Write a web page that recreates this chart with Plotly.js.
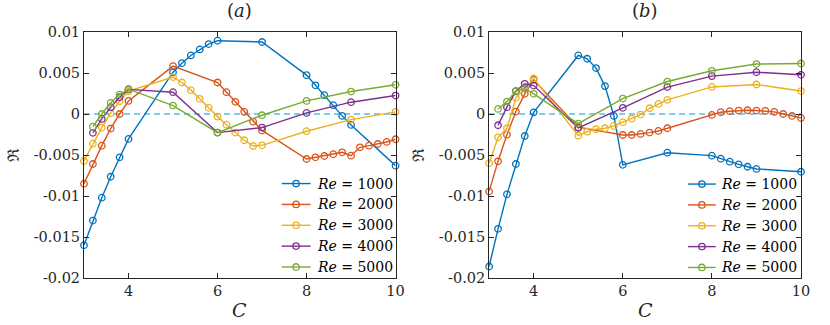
<!DOCTYPE html>
<html>
<head>
<meta charset="utf-8">
<script src="https://cdn.plot.ly/plotly-3.0.1.min.js"></script>
<style>html,body{margin:0;padding:0;background:#fff;}#chart{width:830px;height:325px;}</style>
</head>
<body>
<div id="chart"></div>
<script>
// ---------- data ----------
const seriesNames = ["<i>Re</i> = 1000", "<i>Re</i> = 2000", "<i>Re</i> = 3000", "<i>Re</i> = 4000", "<i>Re</i> = 5000"];
const colors = ["#0072BD", "#D95319", "#EDB120", "#7E2F8E", "#77AC30"];

// panel (a)
const a1x = [3,3.2,3.4,3.6,3.8,4,5,5.2,5.4,5.6,5.8,6,7,8,8.2,8.4,8.6,8.8,9,10];
const a1y = [-0.016,-0.013,-0.0102,-0.00765,-0.00528,-0.00304,0.0051,0.0062,0.00714,0.00787,0.00853,0.00894,0.00878,0.00474,0.0035,0.0023,0.00108,-0.00023,-0.00133,-0.0063];
const a2x = [3,3.2,3.4,3.6,3.8,4,5,6,6.2,6.4,6.6,6.8,7,8,8.2,8.4,8.6,8.8,9,9.2,9.4,9.6,9.8,10];
const a2y = [-0.0085,-0.0061,-0.00386,-0.00178,0,0.0016,0.00584,0.00384,0.00266,0.00148,0.00026,-0.00093,-0.002,-0.00549,-0.00528,-0.00512,-0.0049,-0.00467,-0.00508,-0.00406,-0.00386,-0.00366,-0.00341,-0.00308];
const a3x = [3,3.2,3.4,3.6,3.8,4,5,5.2,5.4,5.6,5.8,6,6.2,6.4,6.6,6.8,7,8,9,10];
const a3y = [-0.00573,-0.00362,-0.00166,0.0001,0.00156,0.00279,0.0045,0.00384,0.00291,0.00185,0.00075,-0.00032,-0.0013,-0.00227,-0.0032,-0.0039,-0.00382,-0.0021,-0.00068,0.00026];
const a4x = [3.2,3.4,3.6,3.8,4,5,6,7,8,9,10];
const a4y = [-0.0023,-0.0006,0.00083,0.00205,0.00300,0.00266,-0.00227,-0.00166,0.00013,0.00144,0.00225];
const a5x = [3.2,3.4,3.6,3.8,4,5,6,7,8,9,10];
const a5y = [-0.00154,0,0.00136,0.00237,0.00303,0.00103,-0.00227,-0.00015,0.0016,0.00274,0.00356];

// panel (b)
const b1x = [3,3.2,3.4,3.6,3.8,4,5,5.2,5.4,5.6,5.8,6,7,8,8.2,8.4,8.6,8.8,9,10];
const b1y = [-0.0186,-0.014,-0.0098,-0.0061,-0.00268,0.0002,0.00714,0.00674,0.0056,0.0034,-0.00023,-0.0062,-0.00472,-0.00508,-0.00545,-0.00582,-0.00614,-0.00643,-0.0067,-0.00704];
const b2x = [3,3.2,3.4,3.6,3.8,4,5,6,6.2,6.4,6.6,6.8,7,8,8.2,8.4,8.6,8.8,9,9.2,9.4,9.6,9.8,10];
const b2y = [-0.00944,-0.00577,-0.00252,0.0003,0.00246,0.00417,-0.00161,-0.00256,-0.00256,-0.00243,-0.00227,-0.00207,-0.00174,-0.00011,0.00022,0.00034,0.00042,0.00046,0.00042,0.00038,0.00026,0,-0.00023,-0.00048];
const b3x = [3,3.2,3.4,3.6,3.8,4,5,5.2,5.4,5.6,5.8,6,6.2,6.4,6.6,6.8,7,8,9,10];
const b3y = [-0.006,-0.00284,-0.00174,0.00197,0.0031,0.00433,-0.00264,-0.00215,-0.00186,-0.00174,-0.00145,-0.001,-0.00056,-0.00007,0.0007,0.00123,0.00172,0.0033,0.0036,0.0028];
const b4x = [3.2,3.4,3.6,3.8,4,5,6,7,8,9,10];
const b4y = [-0.00137,0.00083,0.0028,0.00368,0.00347,-0.0017,0.00075,0.00328,0.00462,0.0051,0.00478];
const b5x = [3.2,3.4,3.6,3.8,4,5,6,7,8,9,10];
const b5y = [0.00062,0.00152,0.0028,0.0031,0.00246,-0.00117,0.00188,0.00396,0.00527,0.00609,0.00616];

// zero reference line
const refX = [3, 10];
const refY = [0, 0];

// ticks
const xTickVals = [4, 6, 8, 10];
const yTickVals = [-0.02, -0.015, -0.01, -0.005, 0, 0.005, 0.01];
const yTickText = ["-0.02", "-0.015", "-0.01", "-0.005", "0", "0.005", "0.01"];

// ---------- build ----------
const FONT = "DejaVu Serif";
const TXT = "#262626";
const panelA = [[a1x,a1y],[a2x,a2y],[a3x,a3y],[a4x,a4y],[a5x,a5y]];
const panelB = [[b1x,b1y],[b2x,b2y],[b3x,b3y],[b4x,b4y],[b5x,b5y]];

const L = 84, R = 28.7, T = 32.3, B = 47.3;
const W = 830 - L - R, H = 325 - T - B;
const px = v => (v - L) / W;          // pixel x -> paper
const py = v => (325 - B - v) / H;    // pixel y -> paper

const traces = [];
traces.push({x: refX, y: refY, xaxis:'x', yaxis:'y', mode:'lines', showlegend:false, hoverinfo:'skip',
  line:{color:'#4DBEEE', width:1.5, dash:'6px,4px'}});
traces.push({x: refX, y: refY, xaxis:'x2', yaxis:'y2', mode:'lines', showlegend:false, hoverinfo:'skip',
  line:{color:'#4DBEEE', width:1.5, dash:'6px,4px'}});

function addPanel(data, xa, ya) {
  data.forEach((d, i) => {
    traces.push({
      x: d[0], y: d[1], xaxis: xa, yaxis: ya, showlegend: false,
      name: seriesNames[i], mode: 'lines+markers', cliponaxis: false,
      line: {color: colors[i], width: 1.4},
      marker: {symbol: 'circle-open', size: 6.5, color: colors[i], line: {width: 1.3, color: colors[i]}}
    });
  });
}
addPanel(panelA, 'x', 'y');
addPanel(panelB, 'x2', 'y2');

const axX = {
  range: [3, 10], tickvals: xTickVals, ticks: 'inside', ticklen: 5, tickwidth: 1,
  tickcolor: TXT, showline: true, linecolor: TXT, linewidth: 1, mirror: 'ticks',
  showgrid: false, zeroline: false, automargin: false,
  tickfont: {family: FONT, size: 14.5, color: TXT}
};
const axY = {
  range: [-0.02, 0.01], tickvals: yTickVals, ticktext: yTickText, ticks: 'inside', ticklen: 5, tickwidth: 1,
  tickcolor: TXT, showline: true, linecolor: TXT, linewidth: 1, mirror: 'ticks',
  showgrid: false, zeroline: false, automargin: false,
  tickfont: {family: FONT, size: 14.5, color: TXT}
};

const annText = (text, x, y, size, extra) => Object.assign({
  text: text, xref: 'paper', yref: 'paper', x: x, y: y, xanchor: 'center', yanchor: 'middle',
  showarrow: false, font: {family: FONT, size: size, color: TXT}
}, extra || {});

const cA = (84 + 395.7) / 2, cB = (489.3 + 801.3) / 2;

const annotations = [
  annText('(<i>a</i>)', px(cA), py(11), 18),
  annText('(<i>b</i>)', px(cB), py(11), 18),
  annText('<i>C</i>', px(cA), py(310), 19),
  annText('<i>C</i>', px(cB), py(310), 19),
  annText('ℜ', px(13), py(155), 16, {textangle: -90}),
  annText('ℜ', px(418), py(155), 16, {textangle: -90})
];
const shapes = [];

// hand-placed legends (layout furniture), entries taken from seriesNames/colors
const legends = [
  {lineX0: 281.7, lineX1: 310.7, textX: 315, top: 183.5},
  {lineX0: 688.3, lineX1: 716.0, textX: 719.3, top: 184.0}
];
const rowGap = 20.8;
legends.forEach(lg => {
  seriesNames.forEach((nm, i) => {
    const yy = lg.top + i * rowGap;
    shapes.push({type: 'line', xref: 'paper', yref: 'paper', x0: px(lg.lineX0), x1: px(lg.lineX1), y0: py(yy), y1: py(yy),
      line: {color: colors[i], width: 1.4}});
    const mx = (lg.lineX0 + lg.lineX1) / 2;
    shapes.push({type: 'circle', xref: 'paper', yref: 'paper', xsizemode: 'pixel', ysizemode: 'pixel',
      xanchor: px(mx), yanchor: py(yy), x0: -3.2, x1: 3.2, y0: -3.2, y1: 3.2,
      line: {color: colors[i], width: 1.3}});
    annotations.push({text: nm, xref: 'paper', yref: 'paper', x: px(lg.textX), y: py(yy),
      xanchor: 'left', yanchor: 'middle', showarrow: false,
      font: {family: FONT, size: 14, color: '#000'}});
  });
});

const layout = {
  width: 830, height: 325,
  margin: {l: L, r: R, t: T, b: B, pad: 0},
  paper_bgcolor: '#fff', plot_bgcolor: '#fff',
  font: {family: FONT, color: TXT},
  xaxis: Object.assign({}, axX, {domain: [0, px(395.7)], anchor: 'y'}),
  yaxis: Object.assign({}, axY, {domain: [0, 1], anchor: 'x'}),
  xaxis2: Object.assign({}, axX, {domain: [px(489.3), 1], anchor: 'y2'}),
  yaxis2: Object.assign({}, axY, {domain: [0, 1], anchor: 'x2'}),
  annotations: annotations,
  shapes: shapes,
  showlegend: false
};

Plotly.newPlot('chart', traces, layout, {staticPlot: true, displayModeBar: false});
</script>
</body>
</html>
